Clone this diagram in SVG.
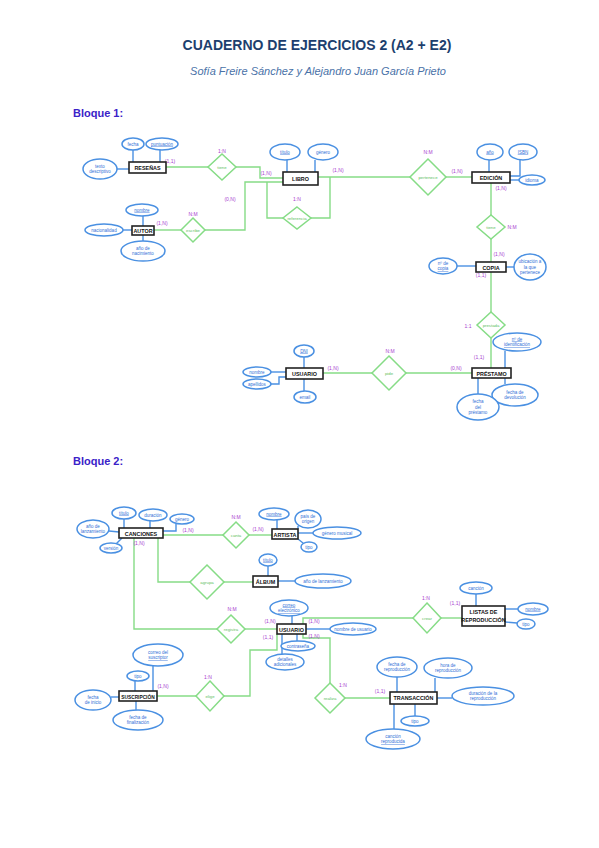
<svg xmlns="http://www.w3.org/2000/svg" width="599" height="848" viewBox="0 0 599 848">
<style>
.bg{fill:#fff}
.ttl{font:bold 14px "Liberation Sans",Arial,sans-serif;fill:#1d3f6e;text-anchor:middle}
.sub{font:italic 11px "Liberation Sans",Arial,sans-serif;fill:#4a72a8;text-anchor:middle}
.blq{font:bold 11px "Liberation Sans",Arial,sans-serif;fill:#3a22c8}
.ent rect{fill:#fff;stroke:#222;stroke-width:1.6}
.ent text{font:bold 5.4px "Liberation Sans",Arial,sans-serif;fill:#111;text-anchor:middle}
.att ellipse{fill:#fff;stroke:#4a90e2;stroke-width:1.5}
.att text{font:4.5px "Liberation Sans",Arial,sans-serif;fill:#2f6fd6;text-anchor:middle}
.u{text-decoration:underline}
.rel polygon{fill:#fff;stroke:#86dc86;stroke-width:1.5}
.rel text{font:4.3px "Liberation Sans",Arial,sans-serif;fill:#5cc05c;text-anchor:middle}
.card{font:5px "Liberation Sans",Arial,sans-serif;fill:#a83ed0;text-anchor:middle}
.g{fill:none;stroke:#86dc86;stroke-width:1.4}
.b{fill:none;stroke:#4a90e2;stroke-width:1.4}
</style>
<rect class="bg" x="0" y="0" width="599" height="848"/>
<text class="ttl" x="317" y="50">CUADERNO DE EJERCICIOS 2 (A2 + E2)</text>
<text class="sub" x="318" y="75">Sofía Freire Sánchez y Alejandro Juan García Prieto</text>
<text class="blq" x="73" y="117">Bloque 1:</text>
<text class="blq" x="73" y="465">Bloque 2:</text>

<g id="connectors">
<!-- Bloque 1 green -->
<polyline class="g" points="166,167 208,167"/>
<polyline class="g" points="236,167 260,167 260,178 283,178"/>
<polyline class="g" points="154,230 181,230"/>
<polyline class="g" points="205,230 245,230 245,182 283,182"/>
<polyline class="g" points="267,182 267,218 283,218"/>
<polyline class="g" points="311,218 330,218 330,177"/>
<polyline class="g" points="318,177 410,177"/>
<polyline class="g" points="446,177 472,177"/>
<polyline class="g" points="491,183 491,215"/>
<polyline class="g" points="491,239 491,262"/>
<polyline class="g" points="491,272 491,312"/>
<polyline class="g" points="491,338 491,368"/>
<polyline class="g" points="323,373 372,373"/>
<polyline class="g" points="406,373 472,373"/>
<!-- Bloque 1 blue -->
<polyline class="b" points="133,150 133,162"/>
<polyline class="b" points="160,150 160,162"/>
<polyline class="b" points="117,169 129,169"/>
<polyline class="b" points="287,160 287,172"/>
<polyline class="b" points="315,160 315,172"/>
<polyline class="b" points="489,160 489,172"/>
<polyline class="b" points="520,160 520,176 510,176"/>
<polyline class="b" points="510,180 519,180"/>
<polyline class="b" points="143,216 143,226"/>
<polyline class="b" points="123,230 132,230"/>
<polyline class="b" points="143,235 143,241"/>
<polyline class="b" points="457,266 476,266"/>
<polyline class="b" points="506,267 514,267"/>
<polyline class="b" points="505,351 505,368"/>
<polyline class="b" points="505,378 505,384"/>
<polyline class="b" points="478,378 478,394"/>
<polyline class="b" points="304,357 304,368"/>
<polyline class="b" points="271,372 286,372"/>
<polyline class="b" points="271,384 279,384 279,377 286,377"/>
<polyline class="b" points="304,379 304,391"/>
<!-- Bloque 2 green -->
<polyline class="g" points="163,535 223,535"/>
<polyline class="g" points="249,535 272,535"/>
<polyline class="g" points="158,538 158,582 190,582"/>
<polyline class="g" points="224,582 253,582"/>
<polyline class="g" points="134,538 134,629 217,629"/>
<polyline class="g" points="245,629 277,629"/>
<polyline class="g" points="303,624 303,618 413,618"/>
<polyline class="g" points="441,618 462,618"/>
<polyline class="g" points="303,634 303,638 330,638 330,683"/>
<polyline class="g" points="345,698 390,698"/>
<polyline class="g" points="157,696 196,696"/>
<polyline class="g" points="224,696 250,696 250,650 277,650 277,634"/>
<!-- Bloque 2 blue -->
<polyline class="b" points="124,519 124,528"/>
<polyline class="b" points="150,521 150,528"/>
<polyline class="b" points="176,524 176,531 163,531"/>
<polyline class="b" points="109,531 119,532"/>
<polyline class="b" points="116,544 122,538"/>
<polyline class="b" points="277,520 277,529"/>
<polyline class="b" points="298,526 298,529"/>
<polyline class="b" points="298,533 313,533"/>
<polyline class="b" points="298,539 303,543"/>
<polyline class="b" points="268,566 268,576"/>
<polyline class="b" points="278,581 295,581"/>
<polyline class="b" points="292,616 292,624"/>
<polyline class="b" points="306,629 330,629"/>
<polyline class="b" points="297,634 297,641"/>
<polyline class="b" points="282,634 282,654"/>
<polyline class="b" points="476,594 476,606"/>
<polyline class="b" points="505,609 518,609"/>
<polyline class="b" points="505,622 517,623"/>
<polyline class="b" points="153,666 153,691"/>
<polyline class="b" points="135,681 135,691"/>
<polyline class="b" points="111,697 119,697"/>
<polyline class="b" points="136,701 136,710"/>
<polyline class="b" points="397,677 397,692"/>
<polyline class="b" points="435,678 435,692"/>
<polyline class="b" points="437,698 452,698"/>
<polyline class="b" points="415,704 415,716"/>
<polyline class="b" points="394,704 394,729"/>
</g>

<g id="cardinalities">
<text class="card" x="170" y="163">(1,1)</text>
<text class="card" x="266" y="175">(1,N)</text>
<text class="card" x="230" y="201">(0,N)</text>
<text class="card" x="162" y="225">(1,N)</text>
<text class="card" x="338" y="172">(1,N)</text>
<text class="card" x="457" y="173">(1,N)</text>
<text class="card" x="501" y="190">(1,N)</text>
<text class="card" x="499" y="256">(1,N)</text>
<text class="card" x="481" y="277">(1,1)</text>
<text class="card" x="479" y="359">(1,1)</text>
<text class="card" x="456" y="370">(0,N)</text>
<text class="card" x="333" y="370">(1,N)</text>
<text class="card" x="188" y="532">(1,N)</text>
<text class="card" x="139" y="545">(1,N)</text>
<text class="card" x="258" y="531">(1,N)</text>
<text class="card" x="270" y="623">(1,N)</text>
<text class="card" x="268" y="639">(1,1)</text>
<text class="card" x="314" y="623">(1,N)</text>
<text class="card" x="314" y="638">(1,N)</text>
<text class="card" x="455" y="605">(1,1)</text>
<text class="card" x="163" y="688">(1,N)</text>
<text class="card" x="380" y="693">(1,1)</text>
<text class="card" x="222" y="153">1:N</text>
<text class="card" x="297" y="201">1:N</text>
<text class="card" x="428" y="154">N:M</text>
<text class="card" x="193" y="216">N:M</text>
<text class="card" x="512" y="229">N:M</text>
<text class="card" x="468" y="328">1:1</text>
<text class="card" x="390" y="353">N:M</text>
<text class="card" x="236" y="519">N:M</text>
<text class="card" x="232" y="611">N:M</text>
<text class="card" x="426" y="600">1:N</text>
<text class="card" x="208" y="679">1:N</text>
<text class="card" x="343" y="687">1:N</text>
</g>

<!-- Bloque 1 entities -->
<g id="resenas" class="ent"><rect x="129" y="162" width="37" height="11"/><text x="147.5" y="169.8">RESEÑAS</text></g>
<g id="libro" class="ent"><rect x="283" y="172" width="35" height="13"/><text x="300.5" y="180.5">LIBRO</text></g>
<g id="edicion" class="ent"><rect x="472" y="172" width="38" height="11"/><text x="491" y="179.8">EDICIÓN</text></g>
<g id="autor" class="ent"><rect x="132" y="226" width="22" height="9"/><text x="143" y="232.5">AUTOR</text></g>
<g id="copia" class="ent"><rect x="476" y="262" width="30" height="10"/><text x="491" y="269.5">COPIA</text></g>
<g id="prestamo" class="ent"><rect x="472" y="368" width="39" height="10"/><text x="491.5" y="375.5">PRÉSTAMO</text></g>
<g id="usuario1" class="ent"><rect x="286" y="368" width="37" height="11"/><text x="304.5" y="375.8">USUARIO</text></g>

<!-- Bloque 1 relationships -->
<g id="rel-tiene1" class="rel"><polygon points="222,154 236,167 222,180 208,167"/><text x="222" y="168.5">tiene</text></g>
<g id="rel-referencia" class="rel"><polygon points="297,207 311,218 297,229 283,218"/><text x="297" y="219.5">referencia</text></g>
<g id="rel-pertenece" class="rel"><polygon points="428,159 446,177 428,195 410,177"/><text x="428" y="178.5">pertenece</text></g>
<g id="rel-escribe" class="rel"><polygon points="193,218 205,230 193,242 181,230"/><text x="193" y="231.5">escribe</text></g>
<g id="rel-tiene2" class="rel"><polygon points="491,215 505,227 491,239 477,227"/><text x="491" y="228.5">tiene</text></g>
<g id="rel-prestada" class="rel"><polygon points="491,312 505,325 491,338 477,325"/><text x="491" y="326.5">prestada</text></g>
<g id="rel-pide" class="rel"><polygon points="389,356 406,373 389,390 372,373"/><text x="389" y="374.5">pide</text></g>

<!-- Bloque 1 attributes -->
<g id="att-fecha-r" class="att"><ellipse cx="133" cy="144" rx="11" ry="6"/><text x="133" y="145.5">fecha</text></g>
<g id="att-puntuacion" class="att"><ellipse cx="162" cy="144" rx="16" ry="6"/><text class="u" x="162" y="145.5">puntuación</text></g>
<g id="att-texto" class="att"><ellipse cx="100" cy="169" rx="17" ry="10"/><text x="100" y="167.5">texto</text><text x="100" y="173">descriptivo</text></g>
<g id="att-titulo" class="att"><ellipse cx="285" cy="152" rx="15" ry="8"/><text class="u" x="285" y="153.5">título</text></g>
<g id="att-genero" class="att"><ellipse cx="323" cy="152" rx="15" ry="8"/><text x="323" y="153.5">género</text></g>
<g id="att-anio" class="att"><ellipse cx="490" cy="152" rx="13" ry="8"/><text class="u" x="490" y="153.5">año</text></g>
<g id="att-isbn" class="att"><ellipse cx="523" cy="152" rx="14" ry="8"/><text class="u" x="523" y="153.5">ISBN</text></g>
<g id="att-idioma" class="att"><ellipse cx="532" cy="180" rx="13" ry="5"/><text x="532" y="181.5">idioma</text></g>
<g id="att-nombre-autor" class="att"><ellipse cx="142" cy="210" rx="16" ry="6"/><text class="u" x="142" y="211.5">nombre</text></g>
<g id="att-nacionalidad" class="att"><ellipse cx="104" cy="230" rx="19" ry="6"/><text x="104" y="231.5">nacionalidad</text></g>
<g id="att-nacimiento" class="att"><ellipse cx="143" cy="251" rx="22" ry="10"/><text x="143" y="249.5">año de</text><text x="143" y="255">nacimiento</text></g>
<g id="att-ncopia" class="att"><ellipse cx="443" cy="266" rx="14" ry="8"/><text x="443" y="264.5">nº de</text><text class="u" x="443" y="270">copia</text></g>
<g id="att-ubicacion" class="att"><ellipse cx="530" cy="267" rx="16" ry="13"/><text x="530" y="263">ubicación a</text><text x="530" y="268.5">la que</text><text x="530" y="274">pertenece</text></g>
<g id="att-nident" class="att"><ellipse cx="517" cy="342" rx="24" ry="9"/><text class="u" x="517" y="340.5">nº de</text><text class="u" x="517" y="346">identificación</text></g>
<g id="att-devolucion" class="att"><ellipse cx="515" cy="395" rx="23" ry="11"/><text x="515" y="393.5">fecha de</text><text x="515" y="399">devolución</text></g>
<g id="att-fprestamo" class="att"><ellipse cx="478" cy="407" rx="21" ry="13"/><text x="478" y="403">fecha</text><text x="478" y="408.5">del</text><text x="478" y="414">préstamo</text></g>
<g id="att-dni" class="att"><ellipse cx="304" cy="351" rx="10" ry="6"/><text class="u" x="304" y="352.5">DNI</text></g>
<g id="att-nombre-u" class="att"><ellipse cx="257" cy="372" rx="14" ry="5"/><text x="257" y="373.5">nombre</text></g>
<g id="att-apellidos" class="att"><ellipse cx="257" cy="384" rx="14" ry="5"/><text x="257" y="385.5">apellidos</text></g>
<g id="att-email" class="att"><ellipse cx="305" cy="397" rx="11" ry="6"/><text x="305" y="398.5">email</text></g>

<!-- Bloque 2 entities -->
<g id="canciones" class="ent"><rect x="119" y="528" width="44" height="10"/><text x="141" y="535.5">CANCIONES</text></g>
<g id="artista" class="ent"><rect x="272" y="529" width="26" height="10"/><text x="285" y="536.5">ARTISTA</text></g>
<g id="album" class="ent"><rect x="253" y="576" width="25" height="11"/><text x="265.5" y="583.8">ÁLBUM</text></g>
<g id="usuario2" class="ent"><rect x="277" y="624" width="29" height="10"/><text x="291.5" y="631.5">USUARIO</text></g>
<g id="listas" class="ent"><rect x="462" y="606" width="43" height="20"/><text x="483.5" y="614">LISTAS DE</text><text x="483.5" y="621.5">REPRODUCCIÓN</text></g>
<g id="suscripcion" class="ent"><rect x="119" y="691" width="38" height="10"/><text x="138" y="698.5" style="font-size:4.8px">SUSCRIPCIÓN</text></g>
<g id="transaccion" class="ent"><rect x="390" y="692" width="47" height="12"/><text x="413.5" y="700">TRANSACCIÓN</text></g>

<!-- Bloque 2 relationships -->
<g id="rel-canta" class="rel"><polygon points="236,522 249,535 236,548 223,535"/><text x="236" y="536.5">canta</text></g>
<g id="rel-agrupa" class="rel"><polygon points="207,565 224,582 207,599 190,582"/><text x="207" y="583.5">agrupa</text></g>
<g id="rel-registra" class="rel"><polygon points="231,615 245,629 231,643 217,629"/><text x="231" y="630.5">registra</text></g>
<g id="rel-crear" class="rel"><polygon points="427,603 441,618 427,633 413,618"/><text x="427" y="619.5">crear</text></g>
<g id="rel-elige" class="rel"><polygon points="210,681 224,696 210,711 196,696"/><text x="210" y="697.5">elige</text></g>
<g id="rel-realiza" class="rel"><polygon points="330,683 345,698 330,713 315,698"/><text x="330" y="699.5">realiza</text></g>

<!-- Bloque 2 attributes -->
<g id="att-c-titulo" class="att"><ellipse cx="124" cy="513" rx="12" ry="6"/><text class="u" x="124" y="514.5">título</text></g>
<g id="att-c-duracion" class="att"><ellipse cx="153" cy="515" rx="14" ry="6"/><text x="153" y="516.5">duración</text></g>
<g id="att-c-genero" class="att"><ellipse cx="182" cy="519" rx="12" ry="5"/><text x="182" y="520.5">género</text></g>
<g id="att-c-anio" class="att"><ellipse cx="93" cy="529" rx="16" ry="9"/><text x="93" y="527.5">año de</text><text x="93" y="533">lanzamiento</text></g>
<g id="att-c-version" class="att"><ellipse cx="111" cy="548" rx="11" ry="5"/><text x="111" y="549.5">versión</text></g>
<g id="att-a-nombre" class="att"><ellipse cx="274" cy="514" rx="15" ry="6"/><text class="u" x="274" y="515.5">nombre</text></g>
<g id="att-a-pais" class="att"><ellipse cx="308" cy="519" rx="13" ry="9"/><text x="308" y="517.5">país de</text><text x="308" y="523">origen</text></g>
<g id="att-a-genero" class="att"><ellipse cx="337" cy="533" rx="24" ry="6"/><text x="337" y="534.5">género musical</text></g>
<g id="att-a-tipo" class="att"><ellipse cx="309" cy="547" rx="8" ry="5"/><text x="309" y="548.5">tipo</text></g>
<g id="att-al-titulo" class="att"><ellipse cx="268" cy="560" rx="9" ry="6"/><text class="u" x="268" y="561.5">título</text></g>
<g id="att-al-anio" class="att"><ellipse cx="323" cy="581" rx="28" ry="7"/><text x="323" y="582.5">año de lanzamiento</text></g>
<g id="att-u-correo" class="att"><ellipse cx="289" cy="608" rx="19" ry="8"/><text class="u" x="289" y="606.5">correo</text><text class="u" x="289" y="612">electrónico</text></g>
<g id="att-u-nombre" class="att"><ellipse cx="353" cy="629" rx="23" ry="6"/><text x="353" y="630.5">nombre de usuario</text></g>
<g id="att-u-pass" class="att"><ellipse cx="298" cy="646" rx="17" ry="5"/><text x="298" y="647.5">contraseña</text></g>
<g id="att-u-detalles" class="att"><ellipse cx="285" cy="662" rx="19" ry="8"/><text x="285" y="660.5">detalles</text><text x="285" y="666">adicionales</text></g>
<g id="att-l-cancion" class="att"><ellipse cx="476" cy="588" rx="16" ry="6"/><text x="476" y="589.5">canción</text></g>
<g id="att-l-nombre" class="att"><ellipse cx="533" cy="609" rx="15" ry="6"/><text class="u" x="533" y="610.5">nombre</text></g>
<g id="att-l-tipo" class="att"><ellipse cx="526" cy="624" rx="9" ry="5"/><text x="526" y="625.5">tipo</text></g>
<g id="att-s-correo" class="att"><ellipse cx="158" cy="655" rx="25" ry="11"/><text x="158" y="653.5">correo del</text><text class="u" x="158" y="659">suscriptor</text></g>
<g id="att-s-tipo" class="att"><ellipse cx="138" cy="676" rx="11" ry="5"/><text x="138" y="677.5">tipo</text></g>
<g id="att-s-inicio" class="att"><ellipse cx="93" cy="700" rx="18" ry="10"/><text x="93" y="698.5">fecha</text><text x="93" y="704">de inicio</text></g>
<g id="att-s-fin" class="att"><ellipse cx="138" cy="720" rx="25" ry="10"/><text x="138" y="718.5">fecha de</text><text x="138" y="724">finalización</text></g>
<g id="att-t-fecha" class="att"><ellipse cx="397" cy="667" rx="20" ry="10"/><text x="397" y="665.5">fecha de</text><text x="397" y="671">reproducción</text></g>
<g id="att-t-hora" class="att"><ellipse cx="448" cy="668" rx="24" ry="10"/><text x="448" y="666.5">hora de</text><text x="448" y="672">reproducción</text></g>
<g id="att-t-duracion" class="att"><ellipse cx="483" cy="696" rx="31" ry="9"/><text x="483" y="694.5">duración de la</text><text x="483" y="700">reproducción</text></g>
<g id="att-t-tipo" class="att"><ellipse cx="415" cy="721" rx="14" ry="5"/><text x="415" y="722.5">tipo</text></g>
<g id="att-t-cancion" class="att"><ellipse cx="393" cy="739" rx="27" ry="10"/><text x="393" y="737.5">canción</text><text class="u" x="393" y="743">reproducida</text></g>
</svg>
